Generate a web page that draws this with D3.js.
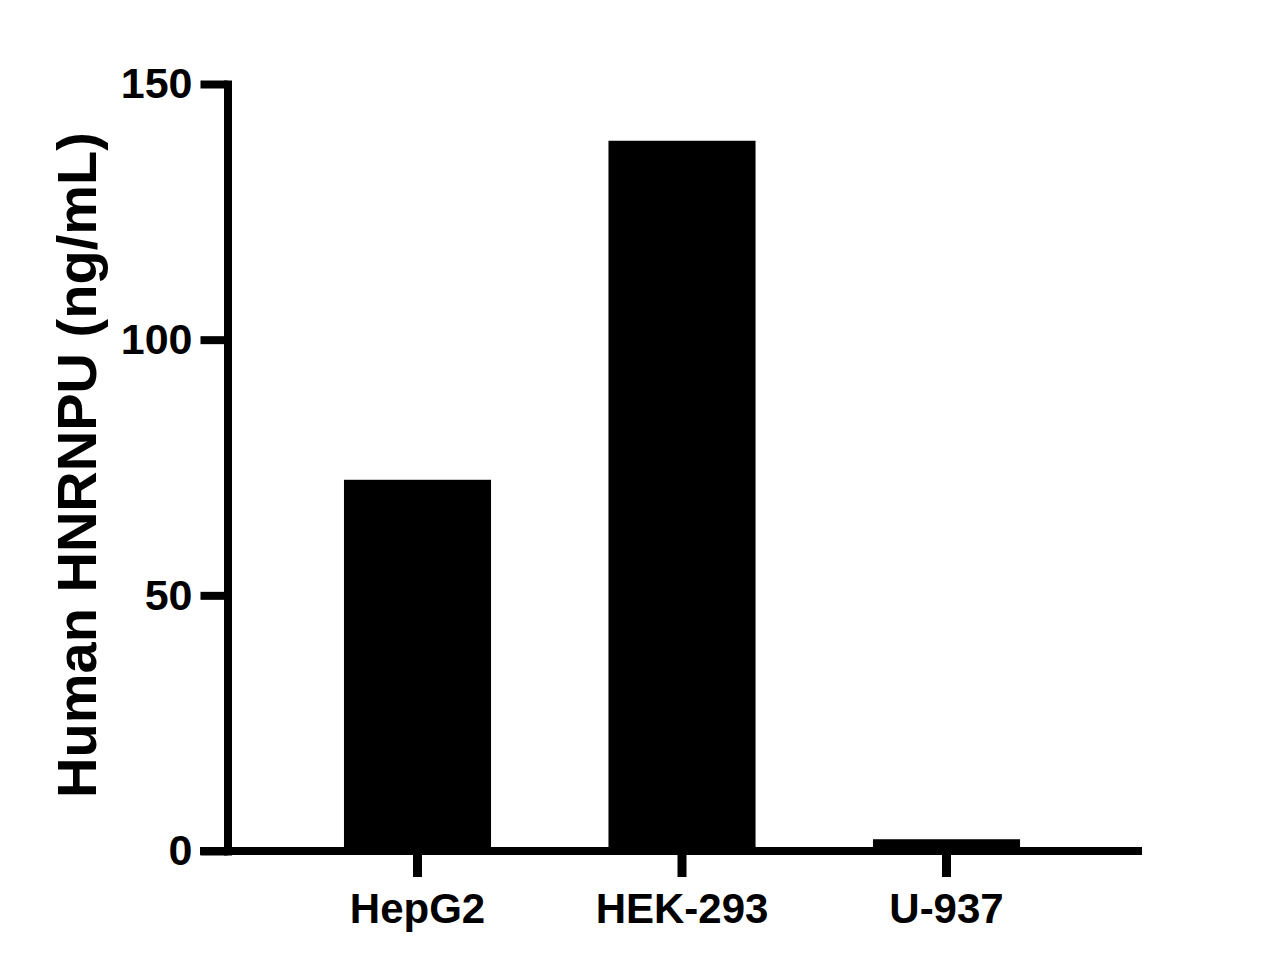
<!DOCTYPE html>
<html>
<head>
<meta charset="utf-8">
<script src="https://cdn.jsdelivr.net/npm/d3@7"></script>
<style>
  html, body { margin: 0; padding: 0; background: #fff; }
  svg { display: block; }
  text { font-family: "Liberation Sans", Arial, sans-serif; font-weight: bold; fill: #000; }
</style>
</head>
<body>
<script>
const categories = ["HepG2", "HEK-293", "U-937"];
const values = [72.6, 138.9, 2.3];
const yTicks = [0, 50, 100, 150];
const yTitle = "Human HNRNPU (ng/mL)";

const W = 1276, H = 972;
const axisX = 227.5, axisY0 = 851, axisYTop = 84, plotRight = 1142;

const svg = d3.select("body").append("svg").attr("width", W).attr("height", H);

const y = d3.scaleLinear().domain([0, 150]).range([axisY0, axisYTop]);
const x = d3.scaleBand().domain(categories)
  .range([285.25, 1078.75]).paddingInner(0.444).paddingOuter(0.222);

// bars
svg.append("g").selectAll("rect").data(values).join("rect")
  .attr("x", (d, i) => x(categories[i]))
  .attr("width", x.bandwidth())
  .attr("y", d => y(d))
  .attr("height", d => y(0) - y(d))
  .attr("fill", "#000");

// x axis baseline
svg.append("line")
  .attr("x1", axisX - 27.5).attr("x2", plotRight)
  .attr("y1", y(0)).attr("y2", y(0))
  .attr("stroke", "#000").attr("stroke-width", 8);

// x axis ticks
const gx = svg.append("g").attr("transform", `translate(0,${y(0)})`)
  .call(d3.axisBottom(x).tickSize(26).tickSizeOuter(0).tickPadding(16));
gx.select(".domain").remove();
gx.selectAll(".tick line").attr("stroke", "#000").attr("stroke-width", 9);
gx.selectAll(".tick text").attr("font-size", 42).attr("fill", "#000")
  .style("font-family", '"Liberation Sans", Arial, sans-serif').style("font-weight", "bold");

// y axis
const gy = svg.append("g").attr("transform", `translate(${axisX},0)`)
  .call(d3.axisLeft(y).tickValues(yTicks).tickSize(27).tickSizeOuter(0).tickPadding(8));
gy.select(".domain").attr("stroke", "#000").attr("stroke-width", 8).attr("stroke-linecap", "square");
gy.selectAll(".tick line").attr("stroke", "#000").attr("stroke-width", 8);
gy.selectAll(".tick text").attr("font-size", 43).attr("fill", "#000")
  .style("font-family", '"Liberation Sans", Arial, sans-serif').style("font-weight", "bold");

// y title
svg.append("text")
  .attr("transform", `translate(96,465) rotate(-90)`)
  .attr("text-anchor", "middle")
  .attr("font-size", 56)
  .text(yTitle);
</script>
</body>
</html>
